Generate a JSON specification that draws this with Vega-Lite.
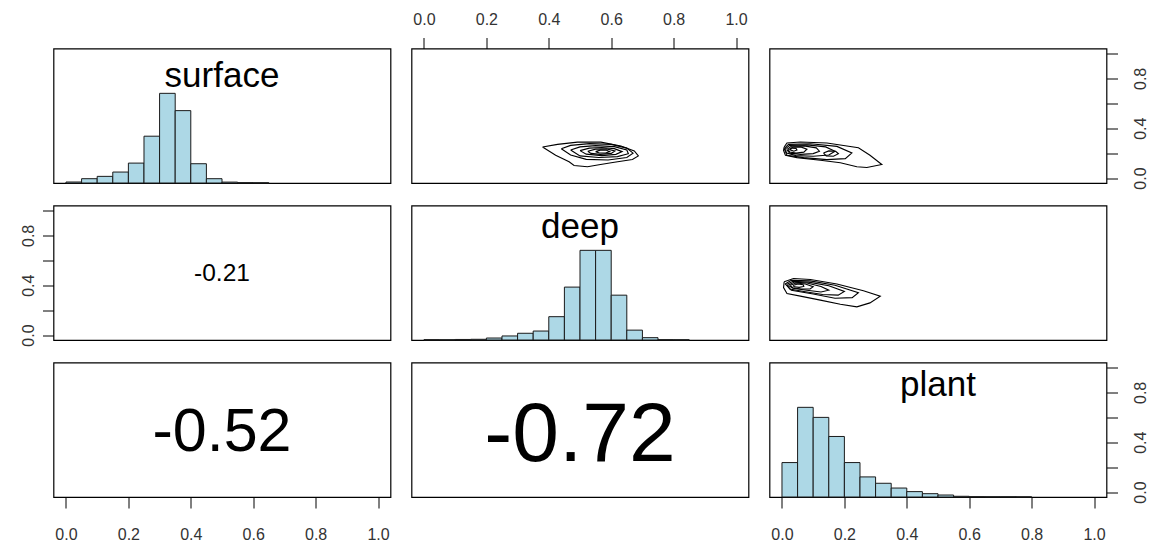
{
  "$schema": "https://vega.github.io/schema/vega-lite/v6.json",
  "background": "white",
  "padding": {"left": 19.5, "top": 10.5, "right": 5, "bottom": 5},
  "bounds": "flush",
  "columns": 3,
  "spacing": {"row": 22, "column": 21},
  "datasets": {
    "hist": [
      {"v": "surface", "lo": 0.0, "hi": 0.05, "h": 0.011},
      {"v": "surface", "lo": 0.05, "hi": 0.1, "h": 0.048},
      {"v": "surface", "lo": 0.1, "hi": 0.15, "h": 0.074},
      {"v": "surface", "lo": 0.15, "hi": 0.2, "h": 0.122},
      {"v": "surface", "lo": 0.2, "hi": 0.25, "h": 0.222},
      {"v": "surface", "lo": 0.25, "hi": 0.3, "h": 0.522},
      {"v": "surface", "lo": 0.3, "hi": 0.35, "h": 1.0},
      {"v": "surface", "lo": 0.35, "hi": 0.4, "h": 0.807},
      {"v": "surface", "lo": 0.4, "hi": 0.45, "h": 0.215},
      {"v": "surface", "lo": 0.45, "hi": 0.5, "h": 0.048},
      {"v": "surface", "lo": 0.5, "hi": 0.55, "h": 0.01},
      {"v": "surface", "lo": 0.55, "hi": 0.6, "h": 0.004},
      {"v": "surface", "lo": 0.6, "hi": 0.65, "h": 0.003},
      {"v": "deep", "lo": 0.0, "hi": 0.05, "h": 0.004},
      {"v": "deep", "lo": 0.05, "hi": 0.1, "h": 0.003},
      {"v": "deep", "lo": 0.1, "hi": 0.15, "h": 0.006},
      {"v": "deep", "lo": 0.15, "hi": 0.2, "h": 0.008},
      {"v": "deep", "lo": 0.2, "hi": 0.25, "h": 0.022},
      {"v": "deep", "lo": 0.25, "hi": 0.3, "h": 0.045},
      {"v": "deep", "lo": 0.3, "hi": 0.35, "h": 0.075},
      {"v": "deep", "lo": 0.35, "hi": 0.4, "h": 0.1},
      {"v": "deep", "lo": 0.4, "hi": 0.45, "h": 0.26},
      {"v": "deep", "lo": 0.45, "hi": 0.5, "h": 0.59},
      {"v": "deep", "lo": 0.5, "hi": 0.55, "h": 1.0},
      {"v": "deep", "lo": 0.55, "hi": 0.6, "h": 1.0},
      {"v": "deep", "lo": 0.6, "hi": 0.65, "h": 0.5},
      {"v": "deep", "lo": 0.65, "hi": 0.7, "h": 0.11},
      {"v": "deep", "lo": 0.7, "hi": 0.75, "h": 0.026},
      {"v": "deep", "lo": 0.75, "hi": 0.8, "h": 0.004},
      {"v": "deep", "lo": 0.8, "hi": 0.85, "h": 0.003},
      {"v": "plant", "lo": 0.0, "hi": 0.05, "h": 0.384},
      {"v": "plant", "lo": 0.05, "hi": 0.1, "h": 1.0},
      {"v": "plant", "lo": 0.1, "hi": 0.15, "h": 0.888},
      {"v": "plant", "lo": 0.15, "hi": 0.2, "h": 0.675},
      {"v": "plant", "lo": 0.2, "hi": 0.25, "h": 0.384},
      {"v": "plant", "lo": 0.25, "hi": 0.3, "h": 0.224},
      {"v": "plant", "lo": 0.3, "hi": 0.35, "h": 0.153},
      {"v": "plant", "lo": 0.35, "hi": 0.4, "h": 0.1},
      {"v": "plant", "lo": 0.4, "hi": 0.45, "h": 0.06},
      {"v": "plant", "lo": 0.45, "hi": 0.5, "h": 0.037},
      {"v": "plant", "lo": 0.5, "hi": 0.55, "h": 0.022},
      {"v": "plant", "lo": 0.55, "hi": 0.6, "h": 0.008},
      {"v": "plant", "lo": 0.6, "hi": 0.65, "h": 0.004},
      {"v": "plant", "lo": 0.65, "hi": 0.7, "h": 0.003},
      {"v": "plant", "lo": 0.7, "hi": 0.75, "h": 0.003},
      {"v": "plant", "lo": 0.75, "hi": 0.8, "h": 0.002}
    ],
    "vars": [
      {"v": "surface"},
      {"v": "deep"},
      {"v": "plant"}
    ],
    "cors": [
      {"pair": "surface-deep", "label": "-0.21"},
      {"pair": "surface-plant", "label": "-0.52"},
      {"pair": "deep-plant", "label": "-0.72"}
    ],
    "cont": [
      {"p": "A", "lev": 1, "i": 0, "x": 0.38, "y": 0.249},
      {"p": "A", "lev": 1, "i": 1, "x": 0.428, "y": 0.27},
      {"p": "A", "lev": 1, "i": 2, "x": 0.492, "y": 0.288},
      {"p": "A", "lev": 1, "i": 3, "x": 0.567, "y": 0.288},
      {"p": "A", "lev": 1, "i": 4, "x": 0.631, "y": 0.257},
      {"p": "A", "lev": 1, "i": 5, "x": 0.674, "y": 0.217},
      {"p": "A", "lev": 1, "i": 6, "x": 0.687, "y": 0.177},
      {"p": "A", "lev": 1, "i": 7, "x": 0.668, "y": 0.148},
      {"p": "A", "lev": 1, "i": 8, "x": 0.61, "y": 0.127},
      {"p": "A", "lev": 1, "i": 9, "x": 0.561, "y": 0.106},
      {"p": "A", "lev": 1, "i": 10, "x": 0.524, "y": 0.09},
      {"p": "A", "lev": 1, "i": 11, "x": 0.481, "y": 0.1},
      {"p": "A", "lev": 1, "i": 12, "x": 0.465, "y": 0.13},
      {"p": "A", "lev": 1, "i": 13, "x": 0.422, "y": 0.183},
      {"p": "A", "lev": 1, "i": 14, "x": 0.38, "y": 0.249},
      {"p": "A", "lev": 2, "i": 0, "x": 0.44, "y": 0.235},
      {"p": "A", "lev": 2, "i": 1, "x": 0.47, "y": 0.262},
      {"p": "A", "lev": 2, "i": 2, "x": 0.53, "y": 0.276},
      {"p": "A", "lev": 2, "i": 3, "x": 0.6, "y": 0.27},
      {"p": "A", "lev": 2, "i": 4, "x": 0.65, "y": 0.24},
      {"p": "A", "lev": 2, "i": 5, "x": 0.67, "y": 0.2},
      {"p": "A", "lev": 2, "i": 6, "x": 0.65, "y": 0.165},
      {"p": "A", "lev": 2, "i": 7, "x": 0.59, "y": 0.145},
      {"p": "A", "lev": 2, "i": 8, "x": 0.52, "y": 0.15},
      {"p": "A", "lev": 2, "i": 9, "x": 0.47, "y": 0.185},
      {"p": "A", "lev": 2, "i": 10, "x": 0.44, "y": 0.235},
      {"p": "A", "lev": 3, "i": 0, "x": 0.47, "y": 0.225},
      {"p": "A", "lev": 3, "i": 1, "x": 0.5, "y": 0.25},
      {"p": "A", "lev": 3, "i": 2, "x": 0.55, "y": 0.26},
      {"p": "A", "lev": 3, "i": 3, "x": 0.61, "y": 0.252},
      {"p": "A", "lev": 3, "i": 4, "x": 0.65, "y": 0.225},
      {"p": "A", "lev": 3, "i": 5, "x": 0.655, "y": 0.195},
      {"p": "A", "lev": 3, "i": 6, "x": 0.62, "y": 0.172},
      {"p": "A", "lev": 3, "i": 7, "x": 0.56, "y": 0.165},
      {"p": "A", "lev": 3, "i": 8, "x": 0.5, "y": 0.178},
      {"p": "A", "lev": 3, "i": 9, "x": 0.47, "y": 0.225},
      {"p": "A", "lev": 4, "i": 0, "x": 0.5, "y": 0.22},
      {"p": "A", "lev": 4, "i": 1, "x": 0.53, "y": 0.24},
      {"p": "A", "lev": 4, "i": 2, "x": 0.57, "y": 0.245},
      {"p": "A", "lev": 4, "i": 3, "x": 0.61, "y": 0.236},
      {"p": "A", "lev": 4, "i": 4, "x": 0.635, "y": 0.212},
      {"p": "A", "lev": 4, "i": 5, "x": 0.615, "y": 0.19},
      {"p": "A", "lev": 4, "i": 6, "x": 0.57, "y": 0.18},
      {"p": "A", "lev": 4, "i": 7, "x": 0.52, "y": 0.192},
      {"p": "A", "lev": 4, "i": 8, "x": 0.5, "y": 0.22},
      {"p": "A", "lev": 5, "i": 0, "x": 0.525, "y": 0.215},
      {"p": "A", "lev": 5, "i": 1, "x": 0.55, "y": 0.232},
      {"p": "A", "lev": 5, "i": 2, "x": 0.585, "y": 0.234},
      {"p": "A", "lev": 5, "i": 3, "x": 0.612, "y": 0.218},
      {"p": "A", "lev": 5, "i": 4, "x": 0.6, "y": 0.198},
      {"p": "A", "lev": 5, "i": 5, "x": 0.565, "y": 0.19},
      {"p": "A", "lev": 5, "i": 6, "x": 0.535, "y": 0.198},
      {"p": "A", "lev": 5, "i": 7, "x": 0.525, "y": 0.215},
      {"p": "A", "lev": 6, "i": 0, "x": 0.55, "y": 0.212},
      {"p": "A", "lev": 6, "i": 1, "x": 0.565, "y": 0.224},
      {"p": "A", "lev": 6, "i": 2, "x": 0.585, "y": 0.223},
      {"p": "A", "lev": 6, "i": 3, "x": 0.595, "y": 0.212},
      {"p": "A", "lev": 6, "i": 4, "x": 0.582, "y": 0.201},
      {"p": "A", "lev": 6, "i": 5, "x": 0.562, "y": 0.201},
      {"p": "A", "lev": 6, "i": 6, "x": 0.55, "y": 0.212},
      {"p": "B", "lev": 1, "i": 0, "x": 0.007, "y": 0.249},
      {"p": "B", "lev": 1, "i": 1, "x": 0.016, "y": 0.281},
      {"p": "B", "lev": 1, "i": 2, "x": 0.059, "y": 0.289},
      {"p": "B", "lev": 1, "i": 3, "x": 0.144, "y": 0.281},
      {"p": "B", "lev": 1, "i": 4, "x": 0.245, "y": 0.243},
      {"p": "B", "lev": 1, "i": 5, "x": 0.282, "y": 0.183},
      {"p": "B", "lev": 1, "i": 6, "x": 0.32, "y": 0.109},
      {"p": "B", "lev": 1, "i": 7, "x": 0.272, "y": 0.085},
      {"p": "B", "lev": 1, "i": 8, "x": 0.24, "y": 0.09},
      {"p": "B", "lev": 1, "i": 9, "x": 0.187, "y": 0.122},
      {"p": "B", "lev": 1, "i": 10, "x": 0.123, "y": 0.143},
      {"p": "B", "lev": 1, "i": 11, "x": 0.048, "y": 0.164},
      {"p": "B", "lev": 1, "i": 12, "x": 0.011, "y": 0.183},
      {"p": "B", "lev": 1, "i": 13, "x": 0.005, "y": 0.222},
      {"p": "B", "lev": 1, "i": 14, "x": 0.007, "y": 0.249},
      {"p": "B", "lev": 2, "i": 0, "x": 0.007, "y": 0.236},
      {"p": "B", "lev": 2, "i": 1, "x": 0.021, "y": 0.27},
      {"p": "B", "lev": 2, "i": 2, "x": 0.091, "y": 0.275},
      {"p": "B", "lev": 2, "i": 3, "x": 0.176, "y": 0.254},
      {"p": "B", "lev": 2, "i": 4, "x": 0.224, "y": 0.201},
      {"p": "B", "lev": 2, "i": 5, "x": 0.203, "y": 0.156},
      {"p": "B", "lev": 2, "i": 6, "x": 0.144, "y": 0.148},
      {"p": "B", "lev": 2, "i": 7, "x": 0.069, "y": 0.164},
      {"p": "B", "lev": 2, "i": 8, "x": 0.016, "y": 0.183},
      {"p": "B", "lev": 2, "i": 9, "x": 0.007, "y": 0.236},
      {"p": "B", "lev": 3, "i": 0, "x": 0.01, "y": 0.232},
      {"p": "B", "lev": 3, "i": 1, "x": 0.025, "y": 0.262},
      {"p": "B", "lev": 3, "i": 2, "x": 0.08, "y": 0.266},
      {"p": "B", "lev": 3, "i": 3, "x": 0.14, "y": 0.25},
      {"p": "B", "lev": 3, "i": 4, "x": 0.17, "y": 0.215},
      {"p": "B", "lev": 3, "i": 5, "x": 0.15, "y": 0.185},
      {"p": "B", "lev": 3, "i": 6, "x": 0.1, "y": 0.175},
      {"p": "B", "lev": 3, "i": 7, "x": 0.045, "y": 0.18},
      {"p": "B", "lev": 3, "i": 8, "x": 0.015, "y": 0.2},
      {"p": "B", "lev": 3, "i": 9, "x": 0.01, "y": 0.232},
      {"p": "B", "lev": 4, "i": 0, "x": 0.015, "y": 0.228},
      {"p": "B", "lev": 4, "i": 1, "x": 0.03, "y": 0.255},
      {"p": "B", "lev": 4, "i": 2, "x": 0.07, "y": 0.258},
      {"p": "B", "lev": 4, "i": 3, "x": 0.11, "y": 0.242},
      {"p": "B", "lev": 4, "i": 4, "x": 0.12, "y": 0.215},
      {"p": "B", "lev": 4, "i": 5, "x": 0.1, "y": 0.196},
      {"p": "B", "lev": 4, "i": 6, "x": 0.06, "y": 0.19},
      {"p": "B", "lev": 4, "i": 7, "x": 0.025, "y": 0.2},
      {"p": "B", "lev": 4, "i": 8, "x": 0.015, "y": 0.228},
      {"p": "B", "lev": 5, "i": 0, "x": 0.02, "y": 0.226},
      {"p": "B", "lev": 5, "i": 1, "x": 0.035, "y": 0.248},
      {"p": "B", "lev": 5, "i": 2, "x": 0.06, "y": 0.25},
      {"p": "B", "lev": 5, "i": 3, "x": 0.08, "y": 0.232},
      {"p": "B", "lev": 5, "i": 4, "x": 0.07, "y": 0.208},
      {"p": "B", "lev": 5, "i": 5, "x": 0.045, "y": 0.2},
      {"p": "B", "lev": 5, "i": 6, "x": 0.025, "y": 0.208},
      {"p": "B", "lev": 5, "i": 7, "x": 0.02, "y": 0.226},
      {"p": "B", "lev": 6, "i": 0, "x": 0.025, "y": 0.228},
      {"p": "B", "lev": 6, "i": 1, "x": 0.032, "y": 0.24},
      {"p": "B", "lev": 6, "i": 2, "x": 0.045, "y": 0.238},
      {"p": "B", "lev": 6, "i": 3, "x": 0.048, "y": 0.225},
      {"p": "B", "lev": 6, "i": 4, "x": 0.038, "y": 0.215},
      {"p": "B", "lev": 6, "i": 5, "x": 0.025, "y": 0.228},
      {"p": "B", "lev": 7, "i": 0, "x": 0.133, "y": 0.2},
      {"p": "B", "lev": 7, "i": 1, "x": 0.15, "y": 0.218},
      {"p": "B", "lev": 7, "i": 2, "x": 0.172, "y": 0.215},
      {"p": "B", "lev": 7, "i": 3, "x": 0.181, "y": 0.195},
      {"p": "B", "lev": 7, "i": 4, "x": 0.165, "y": 0.175},
      {"p": "B", "lev": 7, "i": 5, "x": 0.142, "y": 0.178},
      {"p": "B", "lev": 7, "i": 6, "x": 0.133, "y": 0.2},
      {"p": "C", "lev": 1, "i": 0, "x": 0.007, "y": 0.427},
      {"p": "C", "lev": 1, "i": 1, "x": 0.037, "y": 0.454},
      {"p": "C", "lev": 1, "i": 2, "x": 0.091, "y": 0.446},
      {"p": "C", "lev": 1, "i": 3, "x": 0.176, "y": 0.409},
      {"p": "C", "lev": 1, "i": 4, "x": 0.261, "y": 0.355},
      {"p": "C", "lev": 1, "i": 5, "x": 0.315, "y": 0.312},
      {"p": "C", "lev": 1, "i": 6, "x": 0.282, "y": 0.258},
      {"p": "C", "lev": 1, "i": 7, "x": 0.24, "y": 0.226},
      {"p": "C", "lev": 1, "i": 8, "x": 0.187, "y": 0.247},
      {"p": "C", "lev": 1, "i": 9, "x": 0.123, "y": 0.28},
      {"p": "C", "lev": 1, "i": 10, "x": 0.059, "y": 0.312},
      {"p": "C", "lev": 1, "i": 11, "x": 0.016, "y": 0.333},
      {"p": "C", "lev": 1, "i": 12, "x": 0.005, "y": 0.381},
      {"p": "C", "lev": 1, "i": 13, "x": 0.007, "y": 0.427},
      {"p": "C", "lev": 2, "i": 0, "x": 0.01, "y": 0.41},
      {"p": "C", "lev": 2, "i": 1, "x": 0.03, "y": 0.44},
      {"p": "C", "lev": 2, "i": 2, "x": 0.09, "y": 0.435},
      {"p": "C", "lev": 2, "i": 3, "x": 0.17, "y": 0.4},
      {"p": "C", "lev": 2, "i": 4, "x": 0.245, "y": 0.34},
      {"p": "C", "lev": 2, "i": 5, "x": 0.225, "y": 0.3},
      {"p": "C", "lev": 2, "i": 6, "x": 0.17, "y": 0.295},
      {"p": "C", "lev": 2, "i": 7, "x": 0.1, "y": 0.33},
      {"p": "C", "lev": 2, "i": 8, "x": 0.03, "y": 0.36},
      {"p": "C", "lev": 2, "i": 9, "x": 0.01, "y": 0.41},
      {"p": "C", "lev": 3, "i": 0, "x": 0.015, "y": 0.405},
      {"p": "C", "lev": 3, "i": 1, "x": 0.035, "y": 0.432},
      {"p": "C", "lev": 3, "i": 2, "x": 0.085, "y": 0.425},
      {"p": "C", "lev": 3, "i": 3, "x": 0.15, "y": 0.395},
      {"p": "C", "lev": 3, "i": 4, "x": 0.2, "y": 0.35},
      {"p": "C", "lev": 3, "i": 5, "x": 0.18, "y": 0.32},
      {"p": "C", "lev": 3, "i": 6, "x": 0.13, "y": 0.325},
      {"p": "C", "lev": 3, "i": 7, "x": 0.07, "y": 0.35},
      {"p": "C", "lev": 3, "i": 8, "x": 0.025, "y": 0.37},
      {"p": "C", "lev": 3, "i": 9, "x": 0.015, "y": 0.405},
      {"p": "C", "lev": 4, "i": 0, "x": 0.02, "y": 0.4},
      {"p": "C", "lev": 4, "i": 1, "x": 0.04, "y": 0.425},
      {"p": "C", "lev": 4, "i": 2, "x": 0.08, "y": 0.418},
      {"p": "C", "lev": 4, "i": 3, "x": 0.125, "y": 0.39},
      {"p": "C", "lev": 4, "i": 4, "x": 0.15, "y": 0.36},
      {"p": "C", "lev": 4, "i": 5, "x": 0.125, "y": 0.345},
      {"p": "C", "lev": 4, "i": 6, "x": 0.08, "y": 0.36},
      {"p": "C", "lev": 4, "i": 7, "x": 0.035, "y": 0.375},
      {"p": "C", "lev": 4, "i": 8, "x": 0.02, "y": 0.4},
      {"p": "C", "lev": 5, "i": 0, "x": 0.025, "y": 0.398},
      {"p": "C", "lev": 5, "i": 1, "x": 0.045, "y": 0.418},
      {"p": "C", "lev": 5, "i": 2, "x": 0.075, "y": 0.41},
      {"p": "C", "lev": 5, "i": 3, "x": 0.1, "y": 0.388},
      {"p": "C", "lev": 5, "i": 4, "x": 0.09, "y": 0.37},
      {"p": "C", "lev": 5, "i": 5, "x": 0.06, "y": 0.37},
      {"p": "C", "lev": 5, "i": 6, "x": 0.035, "y": 0.38},
      {"p": "C", "lev": 5, "i": 7, "x": 0.025, "y": 0.398},
      {"p": "C", "lev": 6, "i": 0, "x": 0.035, "y": 0.397},
      {"p": "C", "lev": 6, "i": 1, "x": 0.05, "y": 0.41},
      {"p": "C", "lev": 6, "i": 2, "x": 0.068, "y": 0.404},
      {"p": "C", "lev": 6, "i": 3, "x": 0.07, "y": 0.39},
      {"p": "C", "lev": 6, "i": 4, "x": 0.055, "y": 0.383},
      {"p": "C", "lev": 6, "i": 5, "x": 0.04, "y": 0.387},
      {"p": "C", "lev": 6, "i": 6, "x": 0.035, "y": 0.397}
    ]
  },
  "concat": [
    {
      "width": 337, "height": 134.5,
      "layer": [
        {
          "data": {"name": "hist"},
          "transform": [{"filter": "datum.v == 'surface'"}],
          "mark": {"type": "rect", "fill": "#ADD8E6", "stroke": "#1a1a1a", "strokeWidth": 1},
          "encoding": {
            "x": {"field": "lo", "type": "quantitative", "scale": {"domain": [-0.04, 1.04], "nice": false, "zero": false}, "axis": null},
            "x2": {"field": "hi"},
            "y": {"field": "h", "type": "quantitative", "scale": {"domain": [0, 1.5], "nice": false}, "axis": null},
            "y2": {"datum": 0}
          }
        },
        {
          "data": {"name": "vars"},
          "transform": [{"filter": "datum.v == 'surface'"}],
          "mark": {"type": "text", "fontSize": 35, "align": "center", "baseline": "alphabetic", "color": "black"},
          "encoding": {
            "x": {"datum": 0.5, "type": "quantitative"},
            "y": {"datum": 1.067, "type": "quantitative"},
            "text": {"field": "v"}
          }
        }
      ]
    },
    {
      "width": 337, "height": 134.5,
      "data": {"name": "cont"},
      "transform": [{"filter": "datum.p == 'A'"}],
      "mark": {"type": "line", "color": "black", "strokeWidth": 1.1},
      "encoding": {
        "x": {"field": "x", "type": "quantitative", "scale": {"domain": [-0.04, 1.04], "nice": false, "zero": false},
              "axis": {"orient": "top", "values": [0, 0.2, 0.4, 0.6, 0.8, 1], "format": ".1f", "tickSize": 11, "labelPadding": 10, "labelFontSize": 16, "labelColor": "#333", "tickColor": "black", "labelOverlap": false, "labelFlush": false}},
        "y": {"field": "y", "type": "quantitative", "scale": {"domain": [-0.04, 1.04], "nice": false, "zero": false}, "axis": null},
        "detail": {"field": "lev", "type": "nominal"},
        "order": {"field": "i", "type": "quantitative"}
      }
    },
    {
      "width": 337, "height": 134.5,
      "data": {"name": "cont"},
      "transform": [{"filter": "datum.p == 'B'"}],
      "mark": {"type": "line", "color": "black", "strokeWidth": 1.1},
      "encoding": {
        "x": {"field": "x", "type": "quantitative", "scale": {"domain": [-0.04, 1.04], "nice": false, "zero": false}, "axis": null},
        "y": {"field": "y", "type": "quantitative", "scale": {"domain": [-0.04, 1.04], "nice": false, "zero": false},
              "axis": {"orient": "right", "values": [0, 0.2, 0.4, 0.6, 0.8, 1], "labelExpr": "(datum.value == 0 || datum.value == 0.4 || datum.value == 0.8) ? format(datum.value, '.1f') : ''", "tickSize": 11, "labelPadding": 14.8, "labelFontSize": 16, "labelColor": "#333", "tickColor": "black", "labelAngle": 270, "labelAlign": "center", "labelBaseline": "top", "labelOverlap": false, "labelFlush": false}},
        "detail": {"field": "lev", "type": "nominal"},
        "order": {"field": "i", "type": "quantitative"}
      }
    },
    {
      "width": 337, "height": 134.5,
      "data": {"name": "cors"},
      "transform": [{"filter": "datum.pair == 'surface-deep'"}],
      "mark": {"type": "text", "fontSize": 24.5, "align": "center", "baseline": "middle", "color": "black"},
      "encoding": {
        "x": {"datum": 0.5, "type": "quantitative", "scale": {"domain": [-0.04, 1.04], "nice": false, "zero": false}, "axis": null},
        "y": {"datum": 0.49, "type": "quantitative", "scale": {"domain": [-0.04, 1.04], "nice": false, "zero": false},
              "axis": {"orient": "left", "values": [0, 0.2, 0.4, 0.6, 0.8, 1], "labelExpr": "(datum.value == 0 || datum.value == 0.4 || datum.value == 0.8) ? format(datum.value, '.1f') : ''", "tickSize": 11, "labelPadding": 6, "labelFontSize": 16, "labelColor": "#333", "tickColor": "black", "labelAngle": 270, "labelAlign": "center", "labelBaseline": "bottom", "labelOverlap": false, "labelFlush": false}},
        "text": {"field": "label"}
      }
    },
    {
      "width": 337, "height": 134.5,
      "layer": [
        {
          "data": {"name": "hist"},
          "transform": [{"filter": "datum.v == 'deep'"}],
          "mark": {"type": "rect", "fill": "#ADD8E6", "stroke": "#1a1a1a", "strokeWidth": 1},
          "encoding": {
            "x": {"field": "lo", "type": "quantitative", "scale": {"domain": [-0.04, 1.04], "nice": false, "zero": false}, "axis": null},
            "x2": {"field": "hi"},
            "y": {"field": "h", "type": "quantitative", "scale": {"domain": [0, 1.5], "nice": false}, "axis": null},
            "y2": {"datum": 0}
          }
        },
        {
          "data": {"name": "vars"},
          "transform": [{"filter": "datum.v == 'deep'"}],
          "mark": {"type": "text", "fontSize": 35, "align": "center", "baseline": "alphabetic", "color": "black"},
          "encoding": {
            "x": {"datum": 0.5, "type": "quantitative"},
            "y": {"datum": 1.14, "type": "quantitative"},
            "text": {"field": "v"}
          }
        }
      ]
    },
    {
      "width": 337, "height": 134.5,
      "data": {"name": "cont"},
      "transform": [{"filter": "datum.p == 'C'"}],
      "mark": {"type": "line", "color": "black", "strokeWidth": 1.1},
      "encoding": {
        "x": {"field": "x", "type": "quantitative", "scale": {"domain": [-0.04, 1.04], "nice": false, "zero": false}, "axis": null},
        "y": {"field": "y", "type": "quantitative", "scale": {"domain": [-0.04, 1.04], "nice": false, "zero": false}, "axis": null},
        "detail": {"field": "lev", "type": "nominal"},
        "order": {"field": "i", "type": "quantitative"}
      }
    },
    {
      "width": 337, "height": 134.5,
      "data": {"name": "cors"},
      "transform": [{"filter": "datum.pair == 'surface-plant'"}],
      "mark": {"type": "text", "fontSize": 61, "align": "center", "baseline": "middle", "color": "black"},
      "encoding": {
        "x": {"datum": 0.5, "type": "quantitative", "scale": {"domain": [-0.04, 1.04], "nice": false, "zero": false},
              "axis": {"orient": "bottom", "values": [0, 0.2, 0.4, 0.6, 0.8, 1], "format": ".1f", "tickSize": 11, "labelPadding": 18.8, "labelFontSize": 16, "labelColor": "#333", "tickColor": "black", "labelOverlap": false, "labelFlush": false}},
        "y": {"datum": 0.472, "type": "quantitative", "scale": {"domain": [-0.04, 1.04], "nice": false, "zero": false}, "axis": null},
        "text": {"field": "label"}
      }
    },
    {
      "width": 337, "height": 134.5,
      "data": {"name": "cors"},
      "transform": [{"filter": "datum.pair == 'deep-plant'"}],
      "mark": {"type": "text", "fontSize": 84, "align": "center", "baseline": "middle", "color": "black"},
      "encoding": {
        "x": {"datum": 0.5, "type": "quantitative", "scale": {"domain": [-0.04, 1.04], "nice": false, "zero": false}, "axis": null},
        "y": {"datum": 0.452, "type": "quantitative", "scale": {"domain": [-0.04, 1.04], "nice": false, "zero": false}, "axis": null},
        "text": {"field": "label"}
      }
    },
    {
      "width": 337, "height": 134.5,
      "resolve": {"scale": {"y": "independent"}},
      "layer": [
        {
          "data": {"name": "hist"},
          "transform": [{"filter": "datum.v == 'plant'"}],
          "mark": {"type": "rect", "fill": "#ADD8E6", "stroke": "#1a1a1a", "strokeWidth": 1},
          "encoding": {
            "x": {"field": "lo", "type": "quantitative", "scale": {"domain": [-0.04, 1.04], "nice": false, "zero": false},
                  "axis": {"orient": "bottom", "values": [0, 0.2, 0.4, 0.6, 0.8, 1], "format": ".1f", "tickSize": 11, "labelPadding": 18.8, "labelFontSize": 16, "labelColor": "#333", "tickColor": "black", "labelOverlap": false, "labelFlush": false}},
            "x2": {"field": "hi"},
            "y": {"field": "h", "type": "quantitative", "scale": {"domain": [0, 1.5], "nice": false}, "axis": null},
            "y2": {"datum": 0}
          }
        },
        {
          "data": {"name": "vars"},
          "transform": [{"filter": "datum.v == 'plant'"}],
          "mark": {"type": "text", "fontSize": 35, "align": "center", "baseline": "alphabetic", "color": "black"},
          "encoding": {
            "x": {"datum": 0.5, "type": "quantitative"},
            "y": {"datum": 0.768, "type": "quantitative", "scale": {"domain": [-0.04, 1.04], "nice": false, "zero": false},
                  "axis": {"orient": "right", "values": [0, 0.2, 0.4, 0.6, 0.8, 1], "labelExpr": "(datum.value == 0 || datum.value == 0.4 || datum.value == 0.8) ? format(datum.value, '.1f') : ''", "tickSize": 11, "labelPadding": 14.8, "labelFontSize": 16, "labelColor": "#333", "tickColor": "black", "labelAngle": 270, "labelAlign": "center", "labelBaseline": "top", "labelOverlap": false, "labelFlush": false}},
            "text": {"field": "v"}
          }
        }
      ]
    }
  ],
  "config": {
    "font": "Liberation Sans",
    "view": {"stroke": "black", "strokeWidth": 1.2},
    "axis": {"grid": false, "domain": false, "title": null, "labelFont": "Liberation Sans", "tickWidth": 1}
  }
}
